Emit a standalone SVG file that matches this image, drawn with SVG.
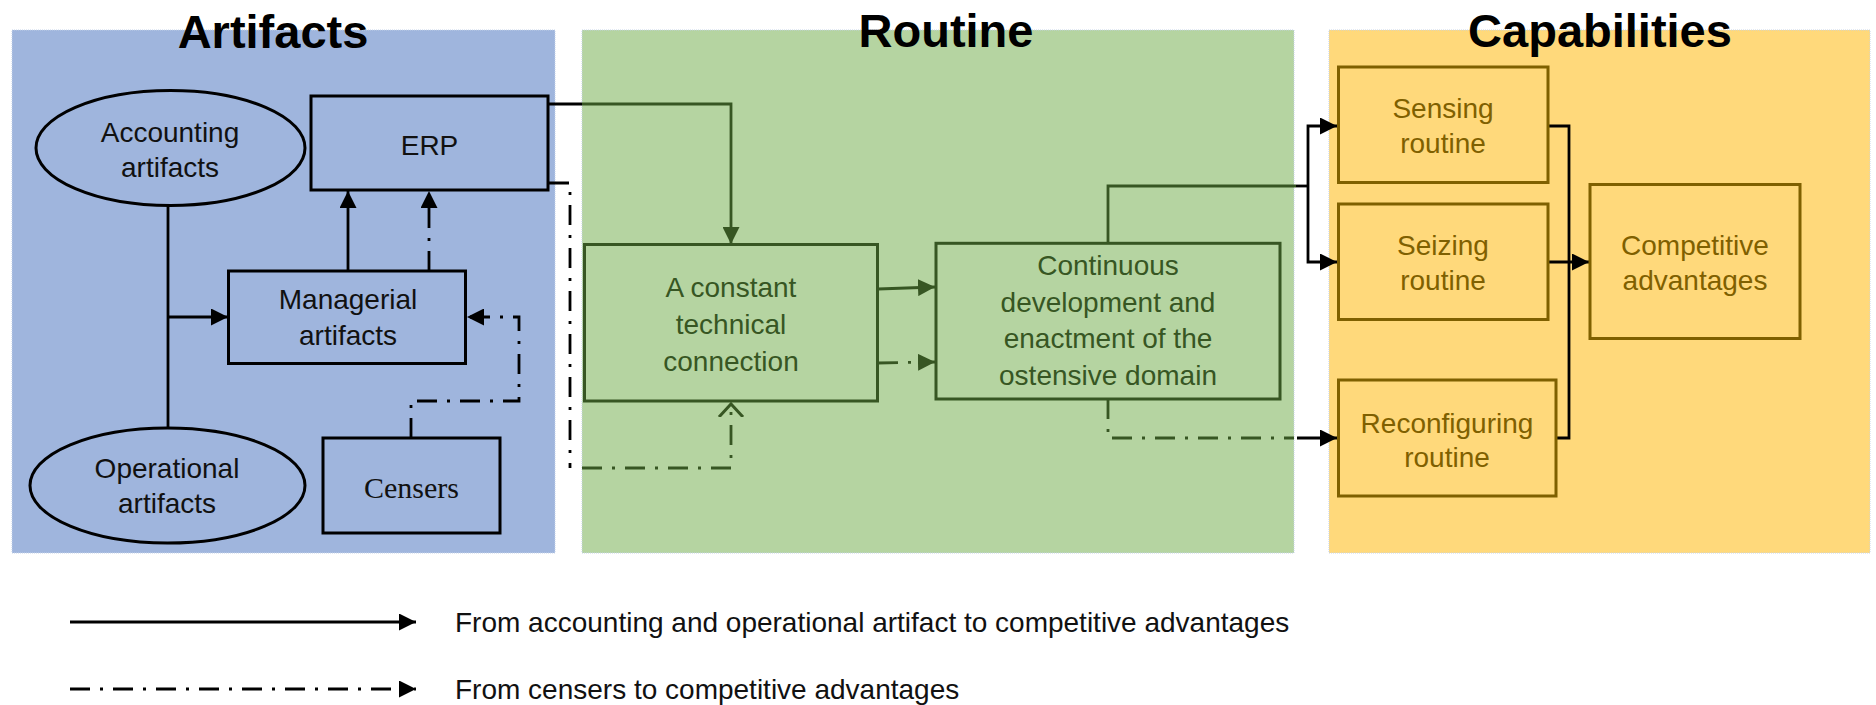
<svg xmlns="http://www.w3.org/2000/svg" width="1876" height="705" viewBox="0 0 1876 705">
<style>
.panel{stroke:#c4d2e8;stroke-width:1;stroke-dasharray:1 1}
.title{font-family:"Liberation Sans",Arial,sans-serif;font-weight:bold;font-size:47px;fill:#000;text-anchor:middle}
.lbl{font-family:"Liberation Sans",Arial,sans-serif;font-size:28px;text-anchor:middle;fill:#111}
.ser{font-family:"Liberation Serif","Times New Roman",serif;font-size:30px;text-anchor:middle;fill:#111}
.leg{font-family:"Liberation Sans",Arial,sans-serif;font-size:28px;fill:#111}
.gt{fill:#375623}
.yt{fill:#7f6000}
.bk{fill:none;stroke:#000;stroke-width:3}
.gbox{fill:none;stroke:#375623;stroke-width:3}
.ybox{fill:none;stroke:#7f6000;stroke-width:3}
.c{fill:none;stroke:#000;stroke-width:2.8}
.cg{fill:none;stroke:#375623;stroke-width:2.8}
.dd{stroke-dasharray:20 10 3 10}
</style>
<defs>
<marker id="ab" viewBox="0 0 10 10" refX="10" refY="5" markerWidth="17" markerHeight="17" markerUnits="userSpaceOnUse" orient="auto"><path d="M0,0 L10,5 L0,10 z" fill="#000"/></marker>
<marker id="ag" viewBox="0 0 10 10" refX="10" refY="5" markerWidth="17" markerHeight="17" markerUnits="userSpaceOnUse" orient="auto"><path d="M0,0 L10,5 L0,10 z" fill="#375623"/></marker>
<marker id="av" viewBox="0 0 16 28" refX="14" refY="14" markerWidth="16" markerHeight="28" markerUnits="userSpaceOnUse" orient="auto"><path d="M0,2 L13,14 L0,26" fill="none" stroke="#375623" stroke-width="3"/></marker>
</defs>

<g id="panels">
<rect class="panel" x="12" y="30" width="543" height="523" fill="#9fb5dd"/>
<rect class="panel" x="582" y="30" width="712" height="523" fill="#b5d4a1"/>
<rect class="panel" x="1329" y="30" width="541" height="523" fill="#ffd97b"/>
<text class="title" x="273" y="48">Artifacts</text>
<text class="title" x="946" y="47">Routine</text>
<text class="title" x="1600" y="47">Capabilities</text>
</g>

<g id="connectors">
<path class="c" d="M168,206 V428"/>
<path class="c" d="M168,317 H228" marker-end="url(#ab)"/>
<path class="c" d="M348,271 V191" marker-end="url(#ab)"/>
<path class="c dd" d="M429,271 V191" marker-end="url(#ab)"/>
<path class="c dd" d="M411,438 V401 H519 V317 H467" marker-end="url(#ab)"/>
<path class="c" d="M549,104 H582"/>
<path class="cg" d="M582,104 H731 V244" marker-end="url(#ag)"/>
<path class="c dd" d="M549,183 H570 V468"/>
<path class="cg dd" d="M582,468 H731 V403" marker-end="url(#av)"/>
<path class="cg" d="M878,289 L935,287" marker-end="url(#ag)"/>
<path class="cg dd" d="M878,363 L935,362" marker-end="url(#ag)"/>
<path class="cg" d="M1108,243 V186 H1296"/>
<path class="c" d="M1296,186 H1308"/>
<path class="c" d="M1308,186 V126 H1337" marker-end="url(#ab)"/>
<path class="c" d="M1308,186 V262 H1337" marker-end="url(#ab)"/>
<path class="cg dd" d="M1108,399 V438 H1294"/>
<path class="c" d="M1297,438 H1337" marker-end="url(#ab)"/>
<path class="c" d="M1548,126 H1569 V438 H1556"/>
<path class="c" d="M1548,262 H1589" marker-end="url(#ab)"/>
</g>

<g id="accounting">
<ellipse class="bk" cx="170.5" cy="148" rx="134.5" ry="57.5"/>
<text class="lbl" x="170" y="141.5">Accounting</text>
<text class="lbl" x="170" y="176.5">artifacts</text>
</g>
<g id="operational">
<ellipse class="bk" cx="167.5" cy="485.5" rx="137.5" ry="57.5"/>
<text class="lbl" x="167" y="478">Operational</text>
<text class="lbl" x="167" y="513">artifacts</text>
</g>
<g id="erp">
<rect class="bk" x="311" y="96" width="237" height="94"/>
<text class="lbl" x="429.5" y="155">ERP</text>
</g>
<g id="managerial">
<rect class="bk" x="228.5" y="271" width="237" height="92.5"/>
<text class="lbl" x="348" y="308.5">Managerial</text>
<text class="lbl" x="348" y="345">artifacts</text>
</g>
<g id="censers">
<rect class="bk" x="323" y="438" width="177" height="95"/>
<text class="ser" x="411.5" y="498">Censers</text>
</g>

<g id="constant">
<rect class="gbox" x="584.5" y="244.5" width="293" height="156.5"/>
<text class="lbl gt" x="731" y="297.3">A constant</text>
<text class="lbl gt" x="731" y="334">technical</text>
<text class="lbl gt" x="731" y="370.7">connection</text>
</g>
<g id="continuous">
<rect class="gbox" x="936" y="243.3" width="344" height="155.7"/>
<text class="lbl gt" x="1108" y="275">Continuous</text>
<text class="lbl gt" x="1108" y="311.7">development and</text>
<text class="lbl gt" x="1108" y="348.3">enactment of the</text>
<text class="lbl gt" x="1108" y="385">ostensive domain</text>
</g>

<g id="sensing">
<rect class="ybox" x="1338.5" y="67" width="209.5" height="115.5"/>
<text class="lbl yt" x="1443" y="118.3">Sensing</text>
<text class="lbl yt" x="1443" y="153.3">routine</text>
</g>
<g id="seizing">
<rect class="ybox" x="1338.5" y="204" width="209.5" height="115.5"/>
<text class="lbl yt" x="1443" y="255">Seizing</text>
<text class="lbl yt" x="1443" y="290">routine</text>
</g>
<g id="reconfiguring">
<rect class="ybox" x="1338.5" y="380" width="217.5" height="116"/>
<text class="lbl yt" x="1447" y="433.3">Reconfiguring</text>
<text class="lbl yt" x="1447" y="466.7">routine</text>
</g>
<g id="competitive">
<rect class="ybox" x="1590" y="184.5" width="210" height="154"/>
<text class="lbl yt" x="1695" y="255">Competitive</text>
<text class="lbl yt" x="1695" y="290">advantages</text>
</g>

<g id="legend">
<path class="c" d="M70,622 H416" marker-end="url(#ab)"/>
<path class="c dd" d="M70,689 H416" marker-end="url(#ab)"/>
<text class="leg" x="455" y="632">From accounting and operational artifact to competitive advantages</text>
<text class="leg" x="455" y="698.5">From censers to competitive advantages</text>
</g>
</svg>
